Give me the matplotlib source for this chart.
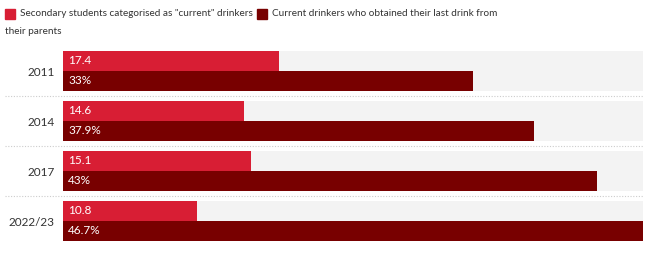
import matplotlib.pyplot as plt
from matplotlib.patches import Rectangle
from matplotlib.lines import Line2D
import textwrap

# data
years = ["2011", "2014", "2017", "2022/23"]
current_drinkers = [17.4, 14.6, 15.1, 10.8]
from_parents = [33, 37.9, 43, 46.7]
current_labels = ["17.4", "14.6", "15.1", "10.8"]
parents_labels = ["33%", "37.9%", "43%", "46.7%"]
series_names = ['Secondary students categorised as "current" drinkers',
                "Current drinkers who obtained their last drink from their parents"]

red = "#d81e34"
dark = "#780000"
band = "#f3f3f3"

plt.rcParams["font.family"] = ["Lato", "DejaVu Sans"]

fig = plt.figure(figsize=(6.5, 2.57), dpi=100)
ax = fig.add_axes([63 / 650, 1 - 246 / 257, 580 / 650, 200 / 257])

xmax = max(from_parents)
ypos = list(range(len(years)))

# grey background bands
ax.barh(ypos, [xmax] * len(years), height=0.8, color=band, zorder=1)
ax.barh([y - 0.2 for y in ypos], current_drinkers, height=0.4, color=red, zorder=2)
ax.barh([y + 0.2 for y in ypos], from_parents, height=0.4, color=dark, zorder=2)

for y, a, b in zip(ypos, current_labels, parents_labels):
    ax.text(0.4, y - 0.2, a, color="white", fontsize=8.5, va="center", ha="left", zorder=3)
    ax.text(0.4, y + 0.2, b, color="white", fontsize=8.5, va="center", ha="left", zorder=3)

ax.set_xlim(0, xmax)
ax.set_ylim(len(years) - 0.5, -0.5)
ax.set_yticks(ypos)
ax.set_yticklabels(years, fontsize=8.5, color="#333333")
ax.tick_params(axis="y", length=0, pad=6)
ax.set_xticks([])
for s in ax.spines.values():
    s.set_visible(False)

# dotted separators between categories
for i in range(len(years) - 1):
    yy = 1 - (96 + 50 * i) / 257
    fig.add_artist(Line2D([5 / 650, 643 / 650], [yy, yy], color="#cccccc",
                          lw=0.8, linestyle=(0, (1, 1.5))))

# legend drawn by hand
fs = 7.2
fig.add_artist(Rectangle((5 / 650, 1 - 19 / 257), 10 / 650, 10 / 257, color=red))
fig.text(20 / 650, 1 - 14 / 257, series_names[0], fontsize=fs, color="#333333", va="center")
fig.add_artist(Rectangle((257 / 650, 1 - 19 / 257), 10 / 650, 10 / 257, color=dark))
line1, line2 = textwrap.wrap(series_names[1], 52)
fig.text(272 / 650, 1 - 14 / 257, line1, fontsize=fs, color="#333333", va="center")
fig.text(5 / 650, 1 - 32 / 257, line2, fontsize=fs, color="#333333", va="center")

plt.savefig("out.png", dpi=100)
